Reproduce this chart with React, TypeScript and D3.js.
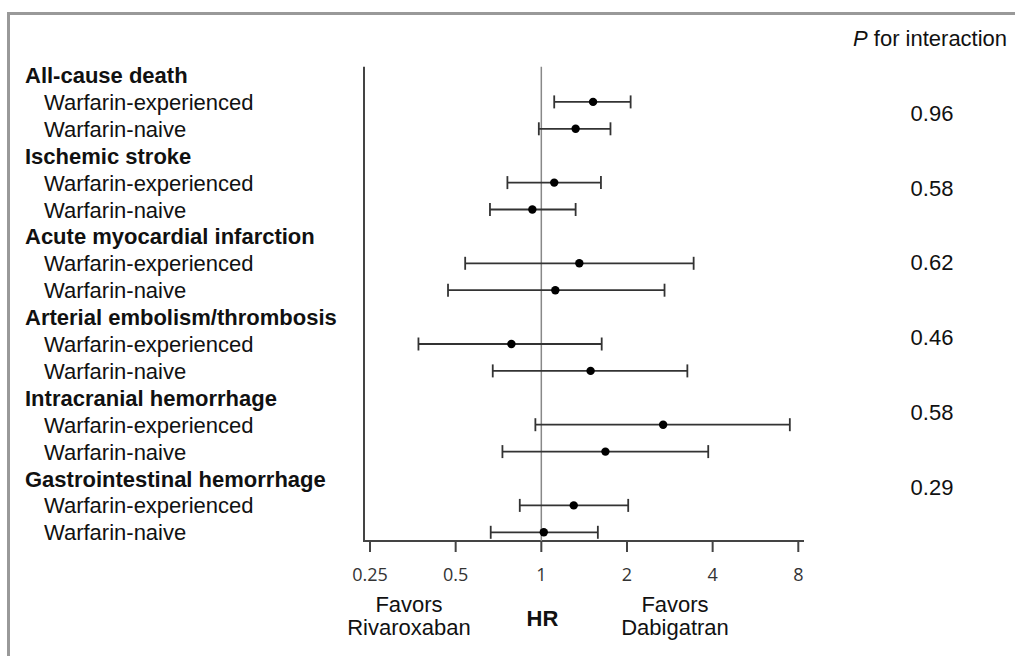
import React from "react";
import * as d3 from "d3";

const outcomes = [
  "All-cause death",
  "Ischemic stroke",
  "Acute myocardial infarction",
  "Arterial embolism/thrombosis",
  "Intracranial hemorrhage",
  "Gastrointestinal hemorrhage",
];
const subgroups = ["Warfarin-experienced", "Warfarin-naive"];
// order: per outcome, experienced then naive
const hr = [1.52, 1.32, 1.11, 0.93, 1.36, 1.12, 0.785, 1.49, 2.68, 1.68, 1.3, 1.02];
const lower = [1.11, 0.98, 0.76, 0.66, 0.54, 0.47, 0.37, 0.675, 0.953, 0.73, 0.84, 0.664];
const upper = [2.06, 1.75, 1.62, 1.32, 3.43, 2.71, 1.63, 3.26, 7.47, 3.86, 2.02, 1.58];
const pInteraction = ["0.96", "0.58", "0.62", "0.46", "0.58", "0.29"];
const tickValues = [0.25, 0.5, 1, 2, 4, 8];

const W = 1015;
const H = 656;
const SANS = "'Liberation Sans', Arial, Helvetica, sans-serif";
const TICKFONT = "'Open Sans', 'DejaVu Sans', sans-serif";

export default function App() {
  const x = d3.scaleLog().base(2).domain([0.25, 8]).range([370, 798.3]);
  const slot = d3.scaleLinear().domain([0, 17]).range([75, 532.3]);
  const pY = d3.scaleLinear().domain([0, 5]).range([113.3, 486.7]);
  const axisY = 541;
  const axisLeft = 364;
  const axisRight = 804;
  const plotTop = 66.7;

  const rows = hr.map((v, i) => {
    const g = Math.floor(i / 2);
    const s = i % 2;
    return { v, lo: lower[i], hi: upper[i], y: slot(g * 3 + 1 + s), label: subgroups[s] };
  });

  return (
    <svg
      width={W}
      height={H}
      style={{ position: "absolute", left: 0, top: 0, background: "#fff" }}
      fontFamily={SANS}
    >
      <rect x={0} y={0} width={W} height={H} fill="#fff" />
      {/* frame */}
      <line x1={7} x2={W} y1={13.5} y2={13.5} stroke="#999" strokeWidth={3} />
      <line x1={8.5} x2={8.5} y1={12} y2={H} stroke="#999" strokeWidth={3} />

      {/* left labels */}
      {outcomes.map((o, g) => (
        <text key={o} x={25} y={slot(g * 3) + 8} fontSize={22} fontWeight="bold" fill="#111">
          {o}
        </text>
      ))}
      {rows.map((r, i) => (
        <text key={"l" + i} x={44} y={r.y + 8} fontSize={22} fill="#111">
          {r.label}
        </text>
      ))}

      {/* axes */}
      <line x1={axisLeft} x2={axisLeft} y1={plotTop} y2={axisY} stroke="#444" strokeWidth={2} />
      <line x1={axisLeft - 1} x2={axisRight} y1={axisY} y2={axisY} stroke="#444" strokeWidth={2} />
      <line x1={x(1)} x2={x(1)} y1={plotTop} y2={axisY} stroke="#888" strokeWidth={1.5} />
      {tickValues.map((t) => (
        <g key={t}>
          <line x1={x(t)} x2={x(t)} y1={axisY} y2={axisY + 11} stroke="#444" strokeWidth={2} />
          <text
            x={x(t)}
            y={580.5}
            fontSize={18}
            fontFamily={TICKFONT}
            textAnchor="middle"
            fill="#333"
          >
            {String(t)}
          </text>
        </g>
      ))}

      {/* error bars */}
      {rows.map((r, i) => (
        <g key={"b" + i} stroke="#333" strokeWidth={1.8}>
          <line x1={x(r.lo)} x2={x(r.hi)} y1={r.y} y2={r.y} />
          <line x1={x(r.lo)} x2={x(r.lo)} y1={r.y - 6.5} y2={r.y + 6.5} />
          <line x1={x(r.hi)} x2={x(r.hi)} y1={r.y - 6.5} y2={r.y + 6.5} />
          <circle cx={x(r.v)} cy={r.y} r={4.2} fill="#000" stroke="none" />
        </g>
      ))}

      {/* P for interaction */}
      <text x={853} y={46} fontSize={22} fill="#111">
        <tspan fontStyle="italic">P</tspan> for interaction
      </text>
      {pInteraction.map((p, i) => (
        <text key={"p" + i} x={932} y={pY(i) + 7.8} fontSize={22} textAnchor="middle" fill="#111">
          {p}
        </text>
      ))}

      {/* bottom labels */}
      <text x={409} y={612} fontSize={22} textAnchor="middle" fill="#111">Favors</text>
      <text x={409} y={635} fontSize={22} textAnchor="middle" fill="#111">Rivaroxaban</text>
      <text x={542.5} y={626} fontSize={22} fontWeight="bold" textAnchor="middle" fill="#111">HR</text>
      <text x={675} y={612} fontSize={22} textAnchor="middle" fill="#111">Favors</text>
      <text x={675} y={635} fontSize={22} textAnchor="middle" fill="#111">Dabigatran</text>
    </svg>
  );
}
